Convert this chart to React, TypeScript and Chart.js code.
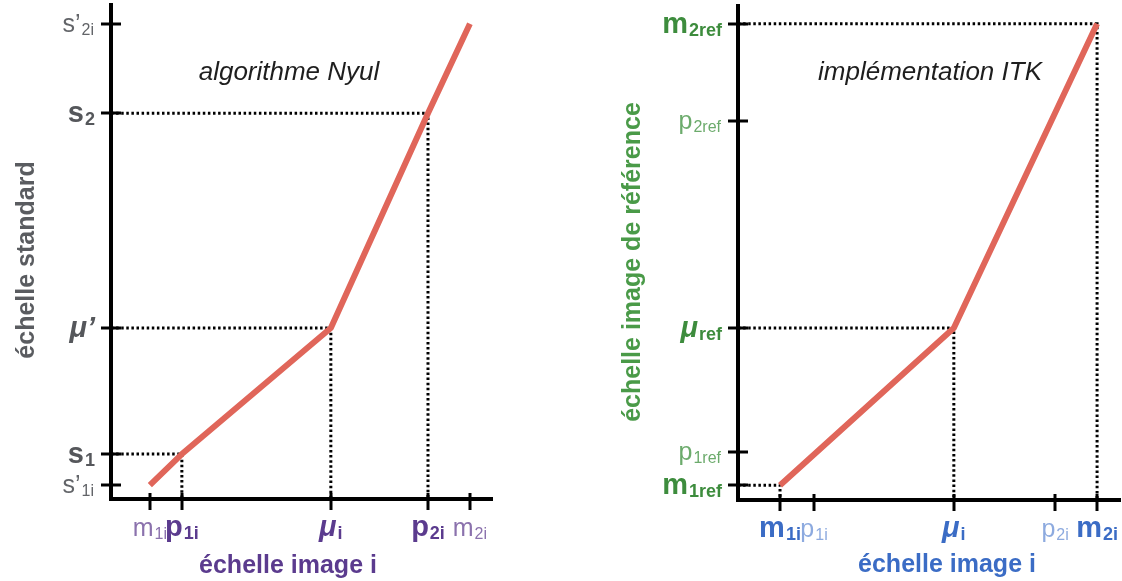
import React, { useEffect, useRef } from "react";
import { Chart, registerables } from "chart.js";

Chart.register(...registerables);

// ---------- Left panel: "algorithme Nyul" ----------
const nyulXTicks = [10.2, 18.6, 57.7, 83.2, 94.2];
const nyulXBase = ["m", "p", "μ", "p", "m"];
const nyulXSub = ["1i", "1i", "i", "2i", "2i"];
const nyulXKey = [false, true, true, true, false];

const nyulYTicks = [2.8, 9.1, 34.6, 78.1, 96.2];
const nyulYBase = ["s’", "s", "μ’", "s", "s’"];
const nyulYSub = ["1i", "1", "", "2", "2i"];
const nyulYKey = [false, true, true, true, false];

const nyulCurveX = [10.2, 18.6, 57.7, 83.2, 94.2];
const nyulCurveY = [2.8, 9.1, 34.6, 78.1, 96.2];
const nyulGuides = [1, 2, 3]; // indices of curve points with dotted guides

// ---------- Right panel: "implémentation ITK" ----------
const itkXTicks = [11.0, 19.9, 56.5, 83.0, 94.0];
const itkXBase = ["m", "p", "μ", "p", "m"];
const itkXSub = ["1i", "1i", "i", "2i", "2i"];
const itkXKey = [true, false, true, false, true];

const itkYTicks = [3.0, 9.7, 34.8, 76.7, 96.4];
const itkYBase = ["m", "p", "μ", "p", "m"];
const itkYSub = ["1ref", "1ref", "ref", "2ref", "2ref"];
const itkYKey = [true, false, true, false, true];

const itkCurveX = [11.0, 56.5, 94.0];
const itkCurveY = [3.0, 34.8, 96.4];
const itkGuides = [0, 1, 2];

const FONT = '"Liberation Sans", Arial, Helvetica, sans-serif';
const RED = "#e0665a";

type Panel = {
  xTicks: number[]; xBase: string[]; xSub: string[]; xKey: boolean[];
  yTicks: number[]; yBase: string[]; ySub: string[]; yKey: boolean[];
  curveX: number[]; curveY: number[]; guides: number[];
  xColors: [string, string]; yColors: [string, string];
  xTitle: string; yTitle: string; xTitleColor: string; yTitleColor: string;
  note: string;
  padding: { left: number; right: number; top: number; bottom: number };
  xTitlePos: [number, number]; yTitlePos: [number, number]; notePos: [number, number];
};

function drawRich(
  ctx: CanvasRenderingContext2D, base: string, sub: string, key: boolean,
  color: string, x: number, y: number, align: "center" | "right"
) {
  const italic = base.startsWith("μ") && key;
  const mainSize = key ? 29 : 25;
  const subSize = key ? 18 : 16;
  const mainFont = `${italic ? "italic " : ""}${key ? "bold " : ""}${mainSize}px ${FONT}`;
  const subFont = `${key ? "bold " : ""}${subSize}px ${FONT}`;
  ctx.font = mainFont;
  const wb = ctx.measureText(base).width;
  ctx.font = subFont;
  const ws = sub ? ctx.measureText(sub).width : 0;
  const gap = sub ? 1 : 0;
  const total = wb + gap + ws;
  const sx = align === "center" ? x - total / 2 : x - total;
  ctx.fillStyle = color;
  ctx.textAlign = "left";
  ctx.textBaseline = "alphabetic";
  ctx.font = mainFont;
  ctx.fillText(base, sx, y);
  if (sub) {
    ctx.font = subFont;
    ctx.fillText(sub, sx + wb + gap, y + 3);
  }
}

function makeConfig(p: Panel): any {
  const curve = p.curveX.map((x, i) => ({ x, y: p.curveY[i] }));
  const guideSets = p.guides.map((gi) => ({
    data: [
      { x: 0, y: p.curveY[gi] },
      { x: p.curveX[gi], y: p.curveY[gi] },
      { x: p.curveX[gi], y: 0 },
    ],
    showLine: true,
    borderColor: "#000",
    borderWidth: 3,
    borderDash: [2.5, 2.6],
    borderCapStyle: "butt",
    pointRadius: 0,
    fill: false,
  }));

  const overlay = {
    id: "overlay",
    afterDraw(chart: any) {
      const ctx = chart.ctx as CanvasRenderingContext2D;
      const xs = chart.scales.x;
      const ys = chart.scales.y;
      const area = chart.chartArea;
      ctx.save();
      // tick marks
      ctx.strokeStyle = "#000";
      ctx.lineWidth = 3;
      ctx.lineCap = "butt";
      p.xTicks.forEach((v) => {
        const px = Math.round(xs.getPixelForValue(v));
        ctx.beginPath();
        ctx.moveTo(px, area.bottom - 6);
        ctx.lineTo(px, area.bottom + 11);
        ctx.stroke();
      });
      p.yTicks.forEach((v) => {
        const py = Math.round(ys.getPixelForValue(v));
        ctx.beginPath();
        ctx.moveTo(area.left - 10, py);
        ctx.lineTo(area.left + 10, py);
        ctx.stroke();
      });
      // tick labels
      p.xTicks.forEach((v, i) => {
        const px = xs.getPixelForValue(v);
        const key = p.xKey[i];
        drawRich(ctx, p.xBase[i], p.xSub[i], key, key ? p.xColors[0] : p.xColors[1], px, area.bottom + 37, "center");
      });
      p.yTicks.forEach((v, i) => {
        const py = ys.getPixelForValue(v);
        const key = p.yKey[i];
        drawRich(ctx, p.yBase[i], p.ySub[i], key, key ? p.yColors[0] : p.yColors[1], area.left - (key ? 16 : 17), py + (key ? 9 : 8), "right");
      });
      // axis titles
      ctx.font = `bold 25px ${FONT}`;
      ctx.textAlign = "center";
      ctx.textBaseline = "middle";
      ctx.fillStyle = p.xTitleColor;
      ctx.fillText(p.xTitle, p.xTitlePos[0], p.xTitlePos[1]);
      ctx.save();
      ctx.translate(p.yTitlePos[0], p.yTitlePos[1]);
      ctx.rotate(-Math.PI / 2);
      ctx.fillStyle = p.yTitleColor;
      ctx.fillText(p.yTitle, 0, 0);
      ctx.restore();
      // annotation
      ctx.font = `italic 26px ${FONT}`;
      ctx.fillStyle = "#1e1e1e";
      ctx.fillText(p.note, p.notePos[0], p.notePos[1]);
      ctx.restore();
    },
  };

  return {
    type: "scatter",
    data: {
      datasets: [
        {
          data: curve,
          showLine: true,
          borderColor: RED,
          borderWidth: 6,
          borderCapStyle: "butt",
          borderJoinStyle: "round",
          pointRadius: 0,
          fill: false,
        },
        ...guideSets,
      ],
    },
    options: {
      animation: false,
      responsive: false,
      events: [],
      layout: { padding: p.padding },
      plugins: { legend: { display: false }, tooltip: { enabled: false } },
      scales: {
        x: {
          type: "linear", min: 0, max: 100,
          afterBuildTicks: (s: any) => { s.ticks = p.xTicks.map((v) => ({ value: v })); },
          afterFit: (s: any) => { s.height = 0; },
          ticks: { display: false },
          grid: { display: false },
          border: { display: true, color: "#000", width: 4 },
        },
        y: {
          type: "linear", min: 0, max: 100,
          afterBuildTicks: (s: any) => { s.ticks = p.yTicks.map((v) => ({ value: v })); },
          afterFit: (s: any) => { s.width = 0; },
          ticks: { display: false },
          grid: { display: false },
          border: { display: true, color: "#000", width: 4 },
        },
      },
    },
    plugins: [overlay],
  };
}

const leftPanel: Panel = {
  xTicks: nyulXTicks, xBase: nyulXBase, xSub: nyulXSub, xKey: nyulXKey,
  yTicks: nyulYTicks, yBase: nyulYBase, ySub: nyulYSub, yKey: nyulYKey,
  curveX: nyulCurveX, curveY: nyulCurveY, guides: nyulGuides,
  xColors: ["#5b3b8e", "#8b72ad"], yColors: ["#55575b", "#626468"],
  xTitle: "échelle image i", yTitle: "échelle standard",
  xTitleColor: "#5b3b8e", yTitleColor: "#5a5c60",
  note: "algorithme Nyul",
  padding: { left: 111, right: 69, top: 5, bottom: 82 },
  xTitlePos: [288, 566], yTitlePos: [27, 260], notePos: [289, 73],
};

const rightPanel: Panel = {
  xTicks: itkXTicks, xBase: itkXBase, xSub: itkXSub, xKey: itkXKey,
  yTicks: itkYTicks, yBase: itkYBase, ySub: itkYSub, yKey: itkYKey,
  curveX: itkCurveX, curveY: itkCurveY, guides: itkGuides,
  xColors: ["#3b6cc5", "#8daadf"], yColors: ["#3d8c3d", "#6cab6c"],
  xTitle: "échelle image i", yTitle: "échelle image de référence",
  xTitleColor: "#3b6cc5", yTitleColor: "#4a9a48",
  note: "implémentation ITK",
  padding: { left: 177, right: 2, top: 6, bottom: 81 },
  xTitlePos: [386, 565], yTitlePos: [72, 262], notePos: [369, 73],
};

function PanelChart({ panel, left }: { panel: Panel; left: number }) {
  const ref = useRef<HTMLCanvasElement | null>(null);
  useEffect(() => {
    if (!ref.current) return;
    const chart = new Chart(ref.current, makeConfig(panel));
    return () => chart.destroy();
  }, [panel]);
  return (
    <canvas
      ref={ref}
      width={561}
      height={581}
      style={{ position: "absolute", left, top: 0, width: 561, height: 581 }}
    />
  );
}

export default function App() {
  return (
    <div style={{ position: "absolute", left: 0, top: 0, width: 1122, height: 581, background: "#fff" }}>
      <PanelChart panel={leftPanel} left={0} />
      <PanelChart panel={rightPanel} left={561} />
    </div>
  );
}
